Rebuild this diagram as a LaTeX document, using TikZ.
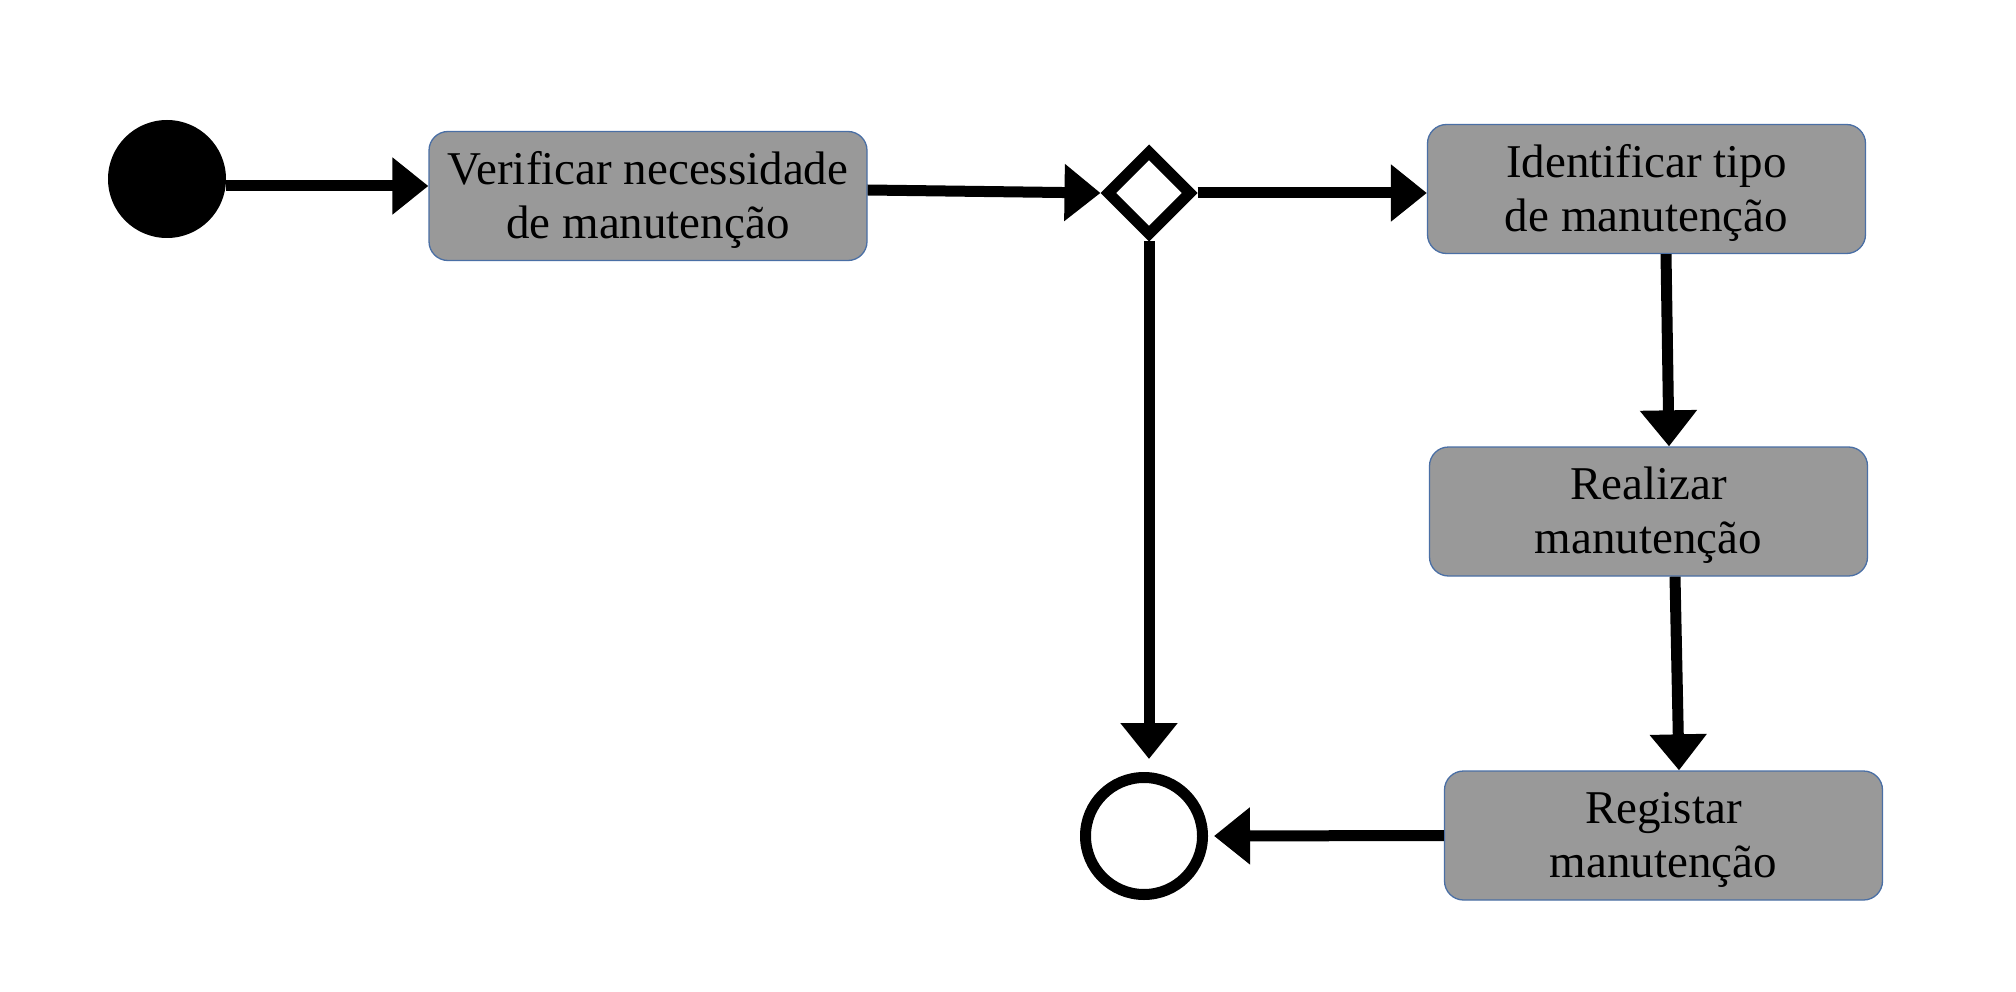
\documentclass[tikz,border=0pt]{standalone}
\usepackage{fontspec}
\setmainfont{Liberation Serif}
\usetikzlibrary{arrows.meta,shapes.geometric}
\definecolor{boxgray}{HTML}{999999}
\definecolor{boxblue}{HTML}{4A6FA5}
\begin{document}
\begin{tikzpicture}[x=1pt,y=-1pt,
  act/.style={draw=boxblue,line width=1.3pt,fill=boxgray,rounded corners=19pt,
    minimum width=438pt,minimum height=129pt,inner sep=0pt},
  lbl/.style={align=center,inner sep=0pt,font=\fontsize{47}{54}\selectfont},
  arr/.style={line width=11pt,-{Triangle[length=36pt,width=55pt]}}]
\useasboundingbox[fill=white] (0,0) rectangle (2016,992);

\node[circle,fill=black,minimum size=118pt,inner sep=0pt] (s) at (167,179) {};
\node[act] (b1) at (648,196) {};
\node[lbl] (t1) at ([yshift=-4pt]b1.center) {Verificar necessidade\\de manutenção};
\node[diamond,draw=black,fill=white,line width=11pt,minimum width=86pt,minimum height=86pt,inner sep=0pt] (d) at (1149,193) {};
\node[act] (b2) at (1646.5,189) {};
\node[lbl] (t2) at ([yshift=-4pt]b2.center) {Identificar tipo\\de manutenção};
\node[act] (b3) at (1648.5,511.5) {};
\node[lbl] (t3) at ([yshift=-4pt]b3.center) {Realizar\\manutenção};
\node[act] (b4) at (1663.5,835.5) {};
\node[lbl] (t4) at ([yshift=-4pt]b4.center) {Registar\\manutenção};
\node[circle,draw=black,fill=white,line width=11pt,minimum size=117pt,inner sep=0pt] (e) at (1144,836) {};

\draw[arr] (s.east |- 0,186) -- (b1.west |- 0,186);
\draw[arr] (b1.east |- 0,190) -- (d.west);
\draw[arr] (d.east) -- (b2.west |- d.east);
\draw[arr] (b2.south -| 1666,0) -- (b3.north -| 1669,0);
\draw[arr] (b3.south -| 1675,0) -- (b4.north -| 1679,0);
\draw[arr,shorten >=6pt] (b4.west) -- (e.east);
\draw[arr,shorten >=13pt] (d.south) -- (e.north -| d.south);
\end{tikzpicture}
\end{document}
